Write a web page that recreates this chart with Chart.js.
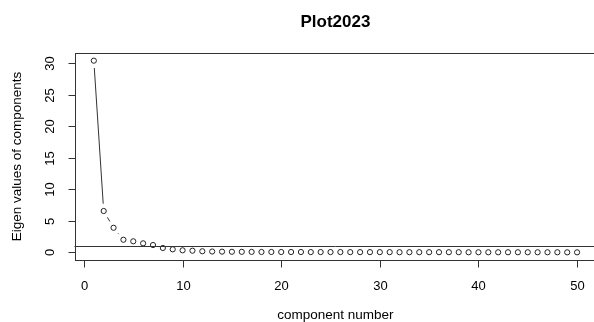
<!DOCTYPE html>
<html>
<head>
<meta charset="utf-8">
<script src="https://cdn.jsdelivr.net/npm/chart.js@4/dist/chart.umd.min.js"></script>
<style>
html, body { margin: 0; padding: 0; background: #fff; overflow: hidden; }
</style>
</head>
<body>
<canvas id="chart" width="600" height="322"></canvas>
<script>
// eigen values per component (component number = position + 1)
var eigenValues = [30.42, 6.56, 3.9, 2.0, 1.75, 1.43, 1.16, 0.69, 0.48, 0.32,
    0.26, 0.17, 0.13, 0.11, 0.09, 0.08, 0.07, 0.06, 0.06, 0.05,
    0.05, 0.05, 0.04, 0.04, 0.04, 0.04, 0.03, 0.03, 0.03, 0.03,
    0.03, 0.02, 0.02, 0.02, 0.02, 0.02, 0.02, 0.02, 0.01, 0.01,
    0.01, 0.01, 0.01, 0.01, 0.01, 0.01, 0.01, 0.01, 0.0, 0.0];
var xTicks = [0, 10, 20, 30, 40, 50];
var yTicks = [0, 5, 10, 15, 20, 25, 30];
var cutoff = 1;
var title = 'Plot2023';
var xTitle = 'component number';
var yTitle = 'Eigen values of components';

var points = eigenValues.map(function(v, i) { return { x: i + 1, y: v }; });

// R style axis limits: data range stretched by 4% each side
var xMin = 1, xMax = eigenValues.length;
var yMin = Math.min.apply(null, eigenValues), yMax = Math.max.apply(null, eigenValues);
var xExt = (xMax - xMin) * 0.04, yExt = (yMax - yMin) * 0.04;

var font = '"Liberation Sans", Arial, sans-serif';

var rStyle = {
    id: 'rStyle',
    beforeDatasetsDraw: function(chart) {
        // type="b": segments between points, with a gap round each point
        var ctx = chart.ctx, pts = chart.getDatasetMeta(0).data, gap = 7.3;
        ctx.save();
        ctx.strokeStyle = '#333';
        ctx.lineWidth = 1;
        for (var i = 1; i < pts.length; i++) {
            var a = pts[i - 1], b = pts[i];
            var dx = b.x - a.x, dy = b.y - a.y;
            var len = Math.sqrt(dx * dx + dy * dy);
            if (len <= 2 * gap) continue;
            var ux = dx / len, uy = dy / len;
            ctx.beginPath();
            ctx.moveTo(a.x + ux * gap, a.y + uy * gap);
            ctx.lineTo(b.x - ux * gap, b.y - uy * gap);
            ctx.stroke();
        }
        ctx.restore();
    },
    afterDraw: function(chart) {
        var ctx = chart.ctx, area = chart.chartArea;
        var xs = chart.scales.x, ys = chart.scales.y;
        ctx.save();
        ctx.strokeStyle = '#333';
        ctx.lineWidth = 1;
        // box
        ctx.strokeRect(Math.round(area.left) + 0.5, Math.round(area.top) + 0.5,
            Math.round(area.right - area.left), Math.round(area.bottom - area.top));
        // abline(h = 1)
        var hy = Math.round(ys.getPixelForValue(cutoff)) + 0.5;
        ctx.beginPath();
        ctx.moveTo(area.left, hy);
        ctx.lineTo(area.right, hy);
        ctx.stroke();

        var bottom = Math.round(area.bottom) + 0.5;
        var left = Math.round(area.left) + 0.5;
        ctx.fillStyle = '#000';
        ctx.font = '13px ' + font;
        ctx.textAlign = 'center';
        ctx.textBaseline = 'middle';
        // x axis
        xTicks.forEach(function(t) {
            var px = Math.round(xs.getPixelForValue(t)) + 0.5;
            ctx.beginPath();
            ctx.moveTo(px, bottom);
            ctx.lineTo(px, bottom + 7);
            ctx.stroke();
            ctx.fillText(String(t), px, 286);
        });
        // y axis, labels turned like R's las = 0
        yTicks.forEach(function(t) {
            var py = Math.round(ys.getPixelForValue(t)) + 0.5;
            ctx.beginPath();
            ctx.moveTo(left, py);
            ctx.lineTo(left - 7, py);
            ctx.stroke();
            ctx.save();
            ctx.translate(50, py);
            ctx.rotate(-Math.PI / 2);
            ctx.fillText(String(t), 0, 0);
            ctx.restore();
        });
        // titles
        ctx.font = '13.5px ' + font;
        ctx.fillText(xTitle, (area.left + area.right) / 2, 315);
        ctx.save();
        ctx.translate(17, (area.top + area.bottom) / 2);
        ctx.rotate(-Math.PI / 2);
        ctx.fillText(yTitle, 0, 0);
        ctx.restore();
        ctx.font = 'bold 17px ' + font;
        ctx.fillText(title, (area.left + area.right) / 2, 22);
        ctx.restore();
    }
};

var mychart = document.getElementById('chart').getContext('2d');
var newChart = new Chart(mychart, {
    type: 'scatter',
    data: {
        datasets: [{
            label: 'eigen values',
            data: points,
            pointStyle: 'circle',
            pointRadius: 2.6,
            pointHoverRadius: 2.6,
            borderWidth: 1,
            borderColor: '#222',
            backgroundColor: 'rgba(0,0,0,0)',
            clip: false
        }]
    },
    options: {
        responsive: false,
        animation: false,
        devicePixelRatio: 1,
        layout: { padding: { left: 74.5, right: 1.6, top: 53, bottom: 62 } },
        scales: {
            x: { type: 'linear', min: xMin - xExt, max: xMax + xExt, display: false },
            y: { type: 'linear', min: yMin - yExt, max: yMax + yExt, display: false }
        },
        plugins: { legend: { display: false }, tooltip: { enabled: false } }
    },
    plugins: [rStyle]
});
</script>
</body>
</html>
